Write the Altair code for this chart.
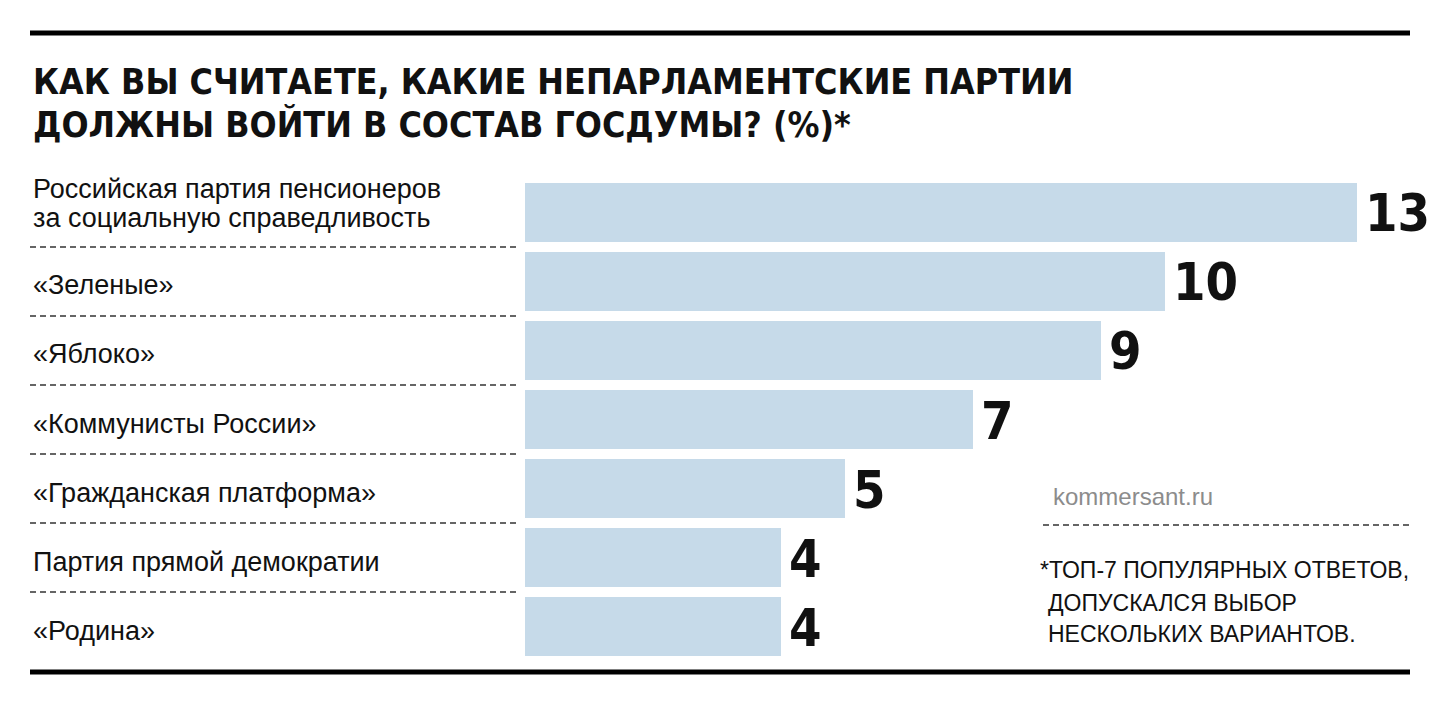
import altair as alt
import pandas as pd

parties = [
    "Российская партия пенсионеров\nза социальную справедливость",
    "«Зеленые»",
    "«Яблоко»",
    "«Коммунисты России»",
    "«Гражданская платформа»",
    "Партия прямой демократии",
    " «Родина»",
]
values = [13, 10, 9, 7, 5, 4, 4]
title_lines = ["КАК ВЫ СЧИТАЕТЕ, КАКИЕ НЕПАРЛАМЕНТСКИЕ ПАРТИИ",
               "ДОЛЖНЫ ВОЙТИ В СОСТАВ ГОСДУМЫ? (%)*"]
source_text = "kommersant.ru"
note_lines = ["*ТОП-7 ПОПУЛЯРНЫХ ОТВЕТОВ,", " ДОПУСКАЛСЯ ВЫБОР", " НЕСКОЛЬКИХ ВАРИАНТОВ."]

df = pd.DataFrame({"party": parties, "value": values, "order": list(range(len(parties)))})
df["multi"] = df["party"].str.contains("\n")

LABEL_FONT = "Liberation Sans"
NUM_FONT = "DejaVu Sans Condensed"
BAR = "#c6dae9"
INK = "#111111"

xs = alt.Scale(domain=[0, 13], range=[517, 1349])
ys = alt.Scale(domain=parties, range=[175, 648], paddingInner=0.145, paddingOuter=0)

base = alt.Chart(df)

bars = base.mark_bar(color=BAR).encode(
    x=alt.X("value:Q", scale=xs, axis=None),
    x2=alt.datum(0),
    y=alt.Y("party:N", scale=ys, sort=parties, axis=None),
)

nums = base.mark_text(font=NUM_FONT, fontWeight="bold", fontSize=52, align="left",
                      baseline="alphabetic", dx=8, dy=19, color=INK).encode(
    x=alt.X("value:Q", scale=xs, axis=None),
    y=alt.Y("party:N", scale=ys, sort=parties, axis=None),
    text="value:Q",
)

labels_single = base.transform_filter("!datum.multi").mark_text(
    font=LABEL_FONT, fontSize=27, align="left", baseline="alphabetic", dy=13, color=INK
).encode(
    x=alt.value(25),
    y=alt.Y("party:N", scale=ys, sort=parties, axis=None),
    text="party:N",
)

labels_multi = base.transform_filter("datum.multi").mark_text(
    font=LABEL_FONT, fontSize=27, align="left", baseline="alphabetic", dy=-14,
    lineBreak="\n", lineHeight=29, color=INK
).encode(
    x=alt.value(25),
    y=alt.Y("party:N", scale=ys, sort=parties, axis=None),
    text="party:N",
)

seps = base.transform_filter(f"datum.order < {len(parties) - 1}").mark_rule(
    color="#333333", strokeWidth=1.5, strokeDash=[6, 4], yOffset=5
).encode(
    y=alt.Y("party:N", scale=ys, sort=parties, bandPosition=1, axis=None),
    x=alt.value(22),
    x2=alt.value(512),
)

def text_line(t, x, y, **kw):
    return alt.Chart(pd.DataFrame({"t": [t]})).mark_text(
        align="left", baseline="alphabetic", **kw
    ).encode(x=alt.value(x), y=alt.value(y), text="t:N")

def hrule(y, x1, x2, **kw):
    return alt.Chart(pd.DataFrame({"k": [0]})).mark_rule(**kw).encode(
        y=alt.value(y), x=alt.value(x1), x2=alt.value(x2))

layers = [
    hrule(25, 22, 1402, color="#000000", strokeWidth=5),
    hrule(664, 22, 1402, color="#000000", strokeWidth=5),
    text_line(title_lines[0], 25, 86, font=NUM_FONT, fontWeight="bold", fontSize=35.5, color=INK),
    text_line(title_lines[1], 25, 129, font=NUM_FONT, fontWeight="bold", fontSize=35.5, color=INK),
    seps, bars, nums, labels_single, labels_multi,
    text_line(source_text, 1045, 497, font=LABEL_FONT, fontSize=24, color="#8c8c8c"),
    hrule(517, 1035, 1402, color="#333333", strokeWidth=1.5, strokeDash=[6, 4]),
    text_line(note_lines[0], 1032, 570, font=LABEL_FONT, fontSize=23, color=INK),
    text_line(note_lines[1], 1040, 603, font=LABEL_FONT, fontSize=23, color=INK),
    text_line(note_lines[2], 1040, 634, font=LABEL_FONT, fontSize=23, color=INK),
]

chart = alt.layer(*layers).properties(
    width=1424, height=690, autosize=alt.AutoSizeParams(type="none"), padding=0,
    background="white",
).configure_view(stroke=None)

chart.save("out.html", embed_options={"renderer": "svg", "actions": False})
